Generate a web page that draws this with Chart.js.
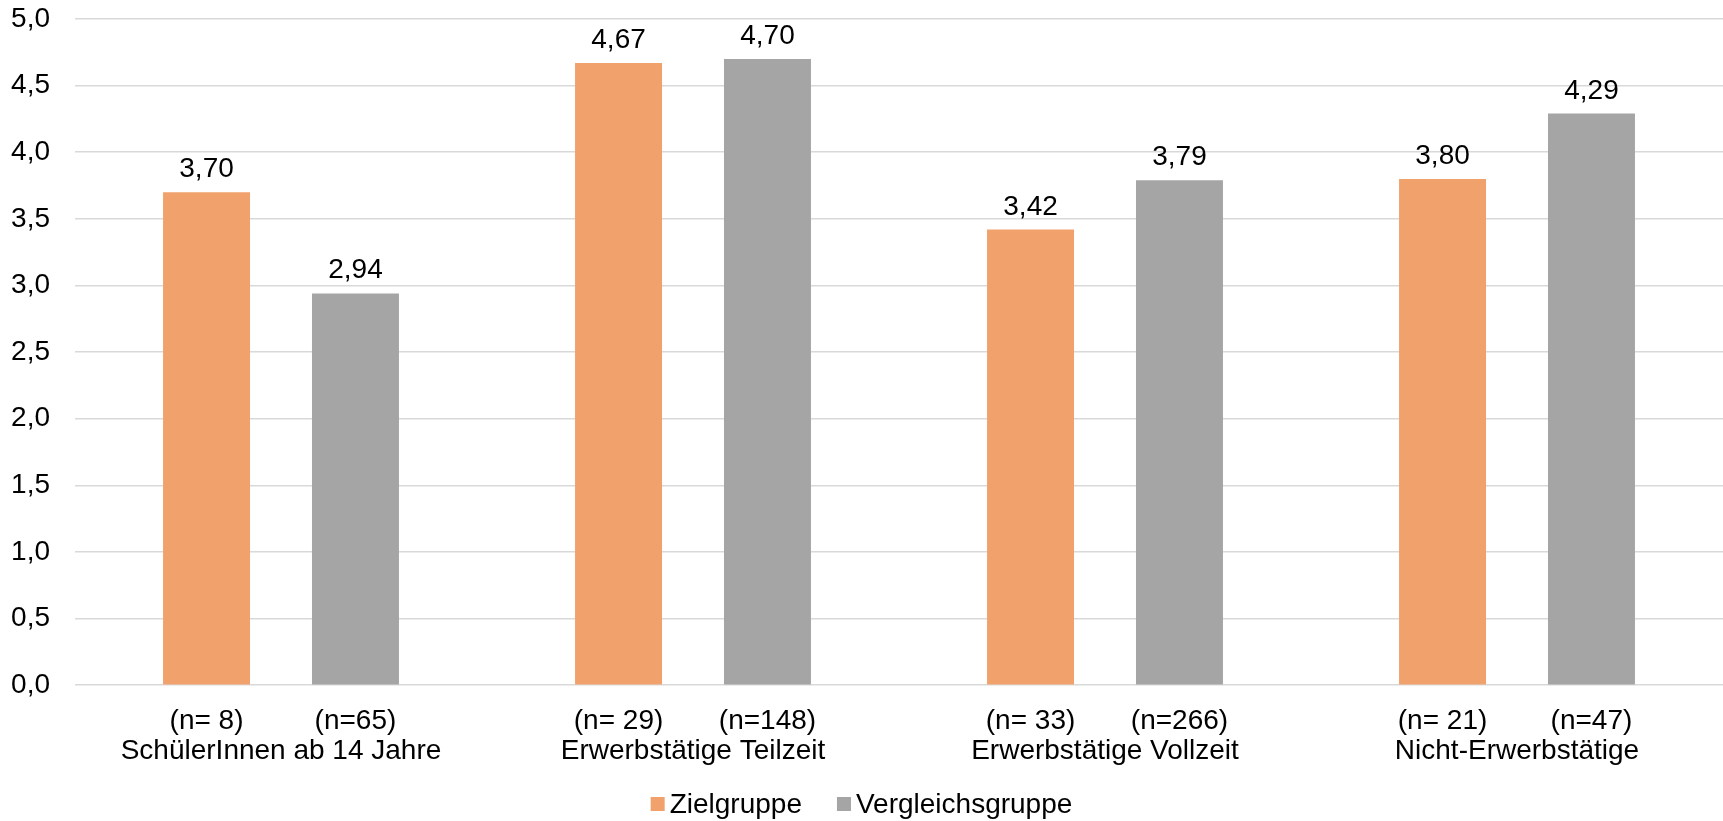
<!DOCTYPE html>
<html lang="de">
<head>
<meta charset="utf-8">
<script src="https://cdn.jsdelivr.net/npm/chart.js@4"></script>
<style>
  html, body { margin: 0; padding: 0; background: #fff; }
  #wrap { width: 1723px; height: 821px; }
</style>
</head>
<body>
<div id="wrap"><canvas id="c" width="1723" height="821"></canvas></div>
<script>
// Gruppen und Mittelwerte
const categories = ['SchülerInnen ab 14 Jahre', 'Erwerbstätige Teilzeit', 'Erwerbstätige Vollzeit', 'Nicht-Erwerbstätige'];
const zielgruppe = [3.70, 4.67, 3.42, 3.80];
const vergleichsgruppe = [2.94, 4.70, 3.79, 4.29];
const nZielgruppe = ['(n= 8)', '(n= 29)', '(n= 33)', '(n= 21)'];
const nVergleichsgruppe = ['(n=65)', '(n=148)', '(n=266)', '(n=47)'];
const yTicks = [0, 0.5, 1, 1.5, 2, 2.5, 3, 3.5, 4, 4.5, 5];

const FONT = '"Liberation Sans", Arial, sans-serif';
const SIZE = 28;
const fmt = v => v.toFixed(2).replace('.', ',');

// Werte über den Balken und Fallzahlen unter den Balken
const barText = {
  id: 'barText',
  afterDatasetsDraw(chart) {
    const ctx = chart.ctx;
    const nLists = [nZielgruppe, nVergleichsgruppe];
    const base = chart.scales.x.top;
    ctx.save();
    ctx.fillStyle = '#000';
    ctx.font = SIZE + 'px ' + FONT;
    ctx.textAlign = 'center';
    ctx.textBaseline = 'alphabetic';
    chart.data.datasets.forEach((ds, di) => {
      chart.getDatasetMeta(di).data.forEach((bar, i) => {
        ctx.fillText(fmt(ds.data[i]), bar.x, bar.y - 15);
        ctx.fillText(nLists[di][i], bar.x, base + 44);
      });
    });
    ctx.restore();
  }
};

// Legende unten mittig: kleines Quadrat, knapper Abstand zum Text
const bottomLegend = {
  id: 'bottomLegend',
  afterDraw(chart) {
    const ctx = chart.ctx;
    const box = 14, gapText = 5, gapItem = 35;
    const yMid = 804;
    ctx.save();
    ctx.font = SIZE + 'px ' + FONT;
    const items = chart.data.datasets.map(ds => ({ text: ds.label, color: ds.backgroundColor, w: ctx.measureText(ds.label).width }));
    const total = items.reduce((s, it) => s + box + gapText + it.w, 0) + gapItem * (items.length - 1);
    let x = (chart.width - total) / 2;
    ctx.textAlign = 'left';
    ctx.textBaseline = 'middle';
    items.forEach(it => {
      ctx.fillStyle = it.color;
      ctx.fillRect(x, yMid - box / 2, box, box);
      x += box + gapText;
      ctx.fillStyle = '#000';
      ctx.fillText(it.text, x, yMid + 1);
      x += it.w + gapItem;
    });
    ctx.restore();
  }
};

new Chart(document.getElementById('c'), {
  type: 'bar',
  data: {
    labels: categories.map(c => ['', c]),
    datasets: [
      { label: 'Zielgruppe', data: zielgruppe, backgroundColor: '#F1A26C' },
      { label: 'Vergleichsgruppe', data: vergleichsgruppe, backgroundColor: '#A5A5A5' }
    ]
  },
  options: {
    responsive: false,
    animation: false,
    devicePixelRatio: 1,
    layout: { padding: { left: 0, right: 0, top: 19, bottom: 41 } },
    datasets: { bar: { categoryPercentage: 0.723, barPercentage: 0.584 } },
    scales: {
      x: {
        grid: { display: false },
        border: { display: false },
        ticks: { color: '#000', font: { family: FONT, size: SIZE, lineHeight: 1.05 }, padding: 14, maxRotation: 0, autoSkip: false }
      },
      y: {
        min: 0, max: 5,
        afterBuildTicks: axis => { axis.ticks = yTicks.map(v => ({ value: v })); },
        afterFit: axis => { axis.width = 75; },
        grid: { color: '#D9D9D9', lineWidth: 1.5, drawTicks: true, tickLength: 25, tickColor: 'rgba(0,0,0,0)' },
        border: { display: false },
        ticks: {
          color: '#000', font: { family: FONT, size: SIZE }, padding: 0,
          callback: v => v.toFixed(1).replace('.', ',')
        }
      }
    },
    plugins: {
      legend: { display: false },
      tooltip: { enabled: false }
    }
  },
  plugins: [barText, bottomLegend]
});
</script>
</body>
</html>
